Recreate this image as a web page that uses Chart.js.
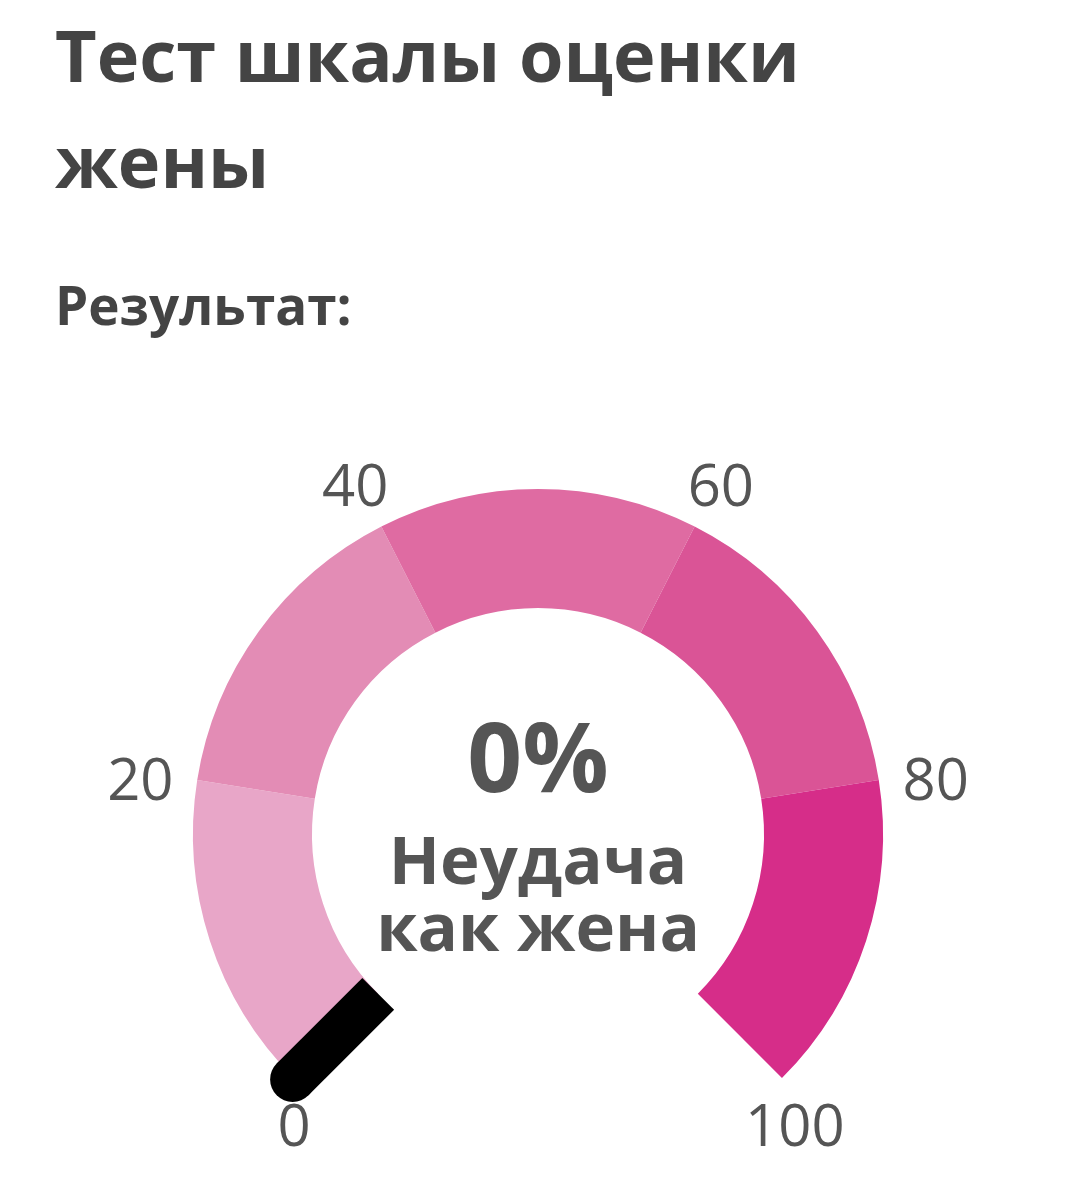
<!DOCTYPE html>
<html>
<head>
<meta charset="utf-8">
<script src="https://cdn.jsdelivr.net/npm/chart.js@4.4.1/dist/chart.umd.min.js"></script>
<style>
  html, body { margin: 0; padding: 0; background: #ffffff; }
  #wrap { position: relative; width: 1076px; height: 1200px; overflow: hidden; font-family: "Open Sans", sans-serif; }
  #gauge { position: absolute; left: 0; top: 0; }
  .title { position: absolute; left: 55px; top: 1px; font-size: 72px; line-height: 106px; font-weight: 700; color: #444444; margin: 0; }
  .sub { position: absolute; left: 55px; top: 275px; font-size: 53px; line-height: 60px; font-weight: 700; color: #444444; margin: 0; }
  .pct { position: absolute; left: 0; width: 1076px; text-align: center; top: 705px; font-size: 96px; line-height: 100px; font-weight: 700; color: #555555; }
  .verdict { position: absolute; left: 0; width: 1076px; text-align: center; top: 825px; font-size: 67px; line-height: 67px; font-weight: 700; color: #555555; }
</style>
</head>
<body>
<div id="wrap">
  <canvas id="gauge" width="1076" height="1200"></canvas>
  <h1 class="title">Тест шкалы оценки<br>жены</h1>
  <h2 class="sub">Результат:</h2>
  <div class="pct" id="pct"></div>
  <div class="verdict" id="verdict"></div>
</div>
<script>
// ---- data ----
const segmentLabels = ['0–20', '20–40', '40–60', '60–80', '80–100'];
const segmentValues = [20, 20, 20, 20, 20];
const segmentColors = ['#E8A6C8', '#E38CB5', '#DF6BA2', '#DA5496', '#D62D89'];
const tickValues = [0, 20, 40, 60, 80, 100];
const tickLabels = ['0', '20', '40', '60', '80', '100'];
const scoreValue = [0];
const verdictLines = ['Неудача', 'как жена'];

document.getElementById('pct').textContent = scoreValue[0] + '%';
document.getElementById('verdict').innerHTML = verdictLines.join('<br>');

const gaugeMax = segmentValues.reduce((a, b) => a + b, 0);

const gaugeExtras = {
  id: 'gaugeExtras',
  afterDatasetsDraw(chart) {
    const meta = chart.getDatasetMeta(0);
    const first = meta.data[0];
    const last = meta.data[meta.data.length - 1];
    const cx = first.x, cy = first.y;
    const rOut = first.outerRadius, rIn = first.innerRadius;
    const a0 = first.startAngle, a1 = last.endAngle;
    const angleOf = v => a0 + (v / gaugeMax) * (a1 - a0);
    const ctx = chart.ctx;

    // needle
    const na = angleOf(scoreValue[0]);
    const ux = Math.cos(na), uy = Math.sin(na);
    const w = 45;
    ctx.save();
    ctx.fillStyle = '#000000';
    ctx.strokeStyle = '#000000';
    ctx.lineWidth = w;
    ctx.lineCap = 'butt';
    ctx.beginPath();
    ctx.moveTo(cx + ux * rIn, cy + uy * rIn);
    ctx.lineTo(cx + ux * (rOut + 2), cy + uy * (rOut + 2));
    ctx.stroke();
    ctx.beginPath();
    ctx.arc(cx + ux * (rOut + 2), cy + uy * (rOut + 2), w / 2, 0, Math.PI * 2);
    ctx.fill();
    ctx.restore();

    // tick labels
    ctx.save();
    const fs = 58;
    ctx.font = '400 ' + fs + 'px "Open Sans"';
    ctx.fillStyle = '#555555';
    ctx.textAlign = 'center';
    ctx.textBaseline = 'alphabetic';
    tickValues.forEach((v, i) => {
      const a = angleOf(v);
      const c = Math.cos(a), s = Math.sin(a);
      let x, y;
      if (s > 0.3) {
        // labels at the open ends sit right under the arc tips
        x = cx + c * rOut + 6.5 + c * 9;
        y = cy + s * rOut + 47;
      } else {
        x = cx + c * rOut * 1.167;
        y = cy + s * rOut * 1.161 + 8;
      }
      ctx.fillText(tickLabels[i], x, y + fs * 0.357);
    });
    ctx.restore();
  }
};

new Chart(document.getElementById('gauge'), {
  type: 'doughnut',
  data: {
    labels: segmentLabels,
    datasets: [{
      data: segmentValues,
      backgroundColor: segmentColors,
      borderWidth: 0
    }]
  },
  options: {
    responsive: false,
    devicePixelRatio: 1,
    animation: false,
    rotation: -135,
    circumference: 270,
    cutout: '65.5%',
    layout: { padding: { top: 489, bottom: 122, left: 0, right: 0 } },
    plugins: {
      legend: { display: false },
      tooltip: { enabled: false },
      title: { display: false }
    }
  },
  plugins: [gaugeExtras]
});
</script>
</body>
</html>
